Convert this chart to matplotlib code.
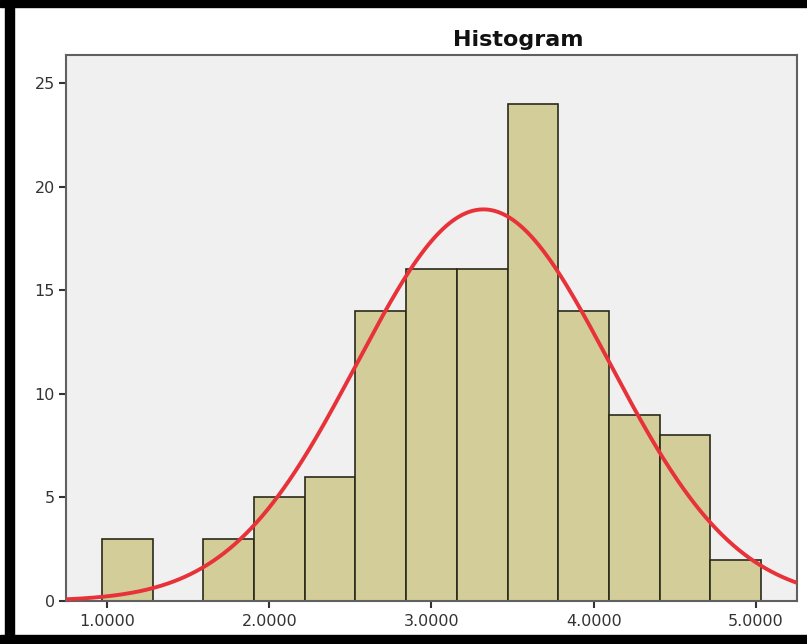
import numpy as np
import matplotlib.pyplot as plt
from matplotlib.patches import Rectangle

plt.rcParams['font.family'] = ['DejaVu Sans']

# histogram bins
bin_start = 0.96875
bin_width = 0.3125
counts = [3, 0, 3, 5, 6, 14, 16, 16, 24, 14, 9, 8, 2]

# fitted normal curve, as seen on the chart
mean = 3.32
std = 0.78
peak = 18.9

x_ticks = [1.0, 2.0, 3.0, 4.0, 5.0]
x_labels = ['1.0000', '2.0000', '3.0000', '4.0000', '5.0000']
y_ticks = [0, 5, 10, 15, 20, 25]

W, H = 807, 644
fig = plt.figure(figsize=(W / 100, H / 100), dpi=100)
fig.patch.set_facecolor('white')

# axes box in pixels: left 66, right 797, top 55, bottom 601
ax = fig.add_axes([66 / W, 1 - 601 / H, (797 - 66) / W, (601 - 55) / H])
ax.set_facecolor('#f0f0f0')

edges = bin_start + bin_width * np.arange(len(counts))
ax.bar(edges, counts, width=bin_width, align='edge',
       color='#d3cd9a', edgecolor='#2a2a1a', linewidth=1.2, zorder=2)

xs = np.linspace(0.747, 5.253, 400)
ys = peak * np.exp(-0.5 * ((xs - mean) / std) ** 2)
ax.plot(xs, ys, color='#e8323a', linewidth=2.8, zorder=3, solid_capstyle='butt')

ax.set_xlim(0.747, 5.253)
ax.set_ylim(0, 26.35)
ax.set_xticks(x_ticks)
ax.set_xticklabels(x_labels)
ax.set_yticks(y_ticks)
ax.tick_params(axis='both', colors='#333333', labelcolor='#333333', labelsize=11.5,
               length=5, width=1.5, direction='out', pad=3)
ax.tick_params(axis='x', pad=4)
for s in ax.spines.values():
    s.set_color('#606060')
    s.set_linewidth(1.5)

fig.text(518 / W, 1 - 40 / H, 'Histogram', ha='center', va='center',
         fontsize=16, fontweight='bold', color='#111111')

# black frame around the screenshot
fig.patches.append(Rectangle((5 / W, 0), 9 / W, 1, transform=fig.transFigure,
                             color='black', zorder=10))
fig.patches.append(Rectangle((0, 1 - 7 / H), 1, 7 / H, transform=fig.transFigure,
                             color='black', zorder=10))
fig.patches.append(Rectangle((0, 0), 1, 9 / H, transform=fig.transFigure,
                             color='black', zorder=10))

fig.savefig('out.png', dpi=100, facecolor='white')
